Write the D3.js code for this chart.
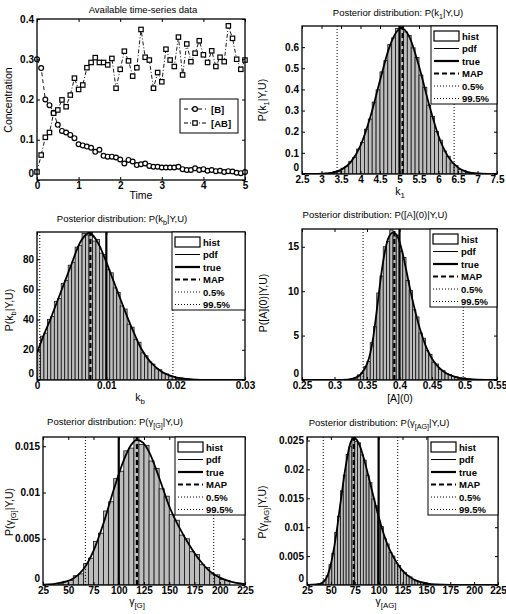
<!DOCTYPE html>
<html>
<head>
<meta charset="utf-8">
<script src="https://cdn.jsdelivr.net/npm/d3@7"></script>
<style>
body { margin: 0; background: #fff; }
svg { display: block; font-family: "Liberation Sans", Arial, sans-serif; }
.tick text { font-size: 10px; font-weight: bold; fill: #000; }
.tick line { stroke: #000; stroke-width: 1; }
.lbl { font-size: 10.5px; fill: #000; }
.ttl { font-size: 9.5px; fill: #000; }
.leg { font-size: 9.5px; font-weight: bold; fill: #000; }
</style>
</head>
<body>
<svg width="506" height="614"></svg>
<script>
// ---- time series data ----
const times = [0,0.1,0.2,0.3,0.4,0.5,0.6,0.7,0.8,0.9,1,1.1,1.2,1.3,1.4,1.5,1.6,1.7,1.8,1.9,
  2,2.1,2.2,2.3,2.4,2.5,2.6,2.7,2.8,2.9,3,3.1,3.2,3.3,3.4,3.5,3.6,3.7,3.8,3.9,
  4,4.1,4.2,4.3,4.4,4.5,4.6,4.7,4.8,4.9,5];
const concB = [0.300,0.278,0.200,0.186,0.167,0.137,0.122,0.118,0.112,0.104,
  0.089,0.086,0.083,0.080,0.070,0.075,0.060,0.058,0.058,0.056,
  0.051,0.041,0.050,0.046,0.037,0.039,0.041,0.035,0.033,0.033,
  0.031,0.031,0.031,0.031,0.033,0.027,0.025,0.025,0.029,0.025,
  0.027,0.023,0.025,0.022,0.023,0.020,0.022,0.021,0.018,0.017,0.020];
const concAB = [0.020,0.062,0.106,0.118,0.166,0.174,0.199,0.182,0.211,0.253,
  0.225,0.236,0.279,0.292,0.304,0.292,0.292,0.286,0.302,0.228,
  0.275,0.320,0.296,0.258,0.279,0.374,0.305,0.298,0.228,0.267,
  0.244,0.325,0.298,0.282,0.355,0.261,0.338,0.294,0.315,0.346,
  0.311,0.292,0.321,0.282,0.305,0.294,0.383,0.352,0.300,0.275,0.298];
const timeTicks = [0,1,2,3,4,5];
const concTicks = [0,0.1,0.2,0.3,0.4];

// ---- k1 posterior ----
const k1Ticks = [2.5,3,3.5,4,4.5,5,5.5,6,6.5,7,7.5];
const k1ProbTicks = [0,0.1,0.2,0.3,0.4,0.5,0.6];
const k1PdfX = [2.5,2.75,3,3.25,3.5,3.75,4,4.25,4.5,4.75,5,5.05,5.25,5.5,5.75,6,6.25,6.5,6.75,7,7.25,7.5];
const k1PdfY = [0,0.0003,0.0014,0.0056,0.0195,0.056,0.134,0.268,0.442,0.605,0.687,0.69,0.650,0.510,0.334,0.180,0.081,0.030,0.0094,0.0024,0.0005,0.0001];
const k1HistStart = 3, k1HistStep = 0.1;
const k1Hist = [0.002,0.004,0.004,0.011,0.014,0.027,0.035,0.060,0.078,0.118,0.150,0.212,0.260,0.340,0.398,0.483,0.536,0.612,0.644,0.688,
  0.694,0.672,0.655,0.597,0.551,0.468,0.410,0.326,0.272,0.201,0.160,0.109,0.084,0.052,0.040,0.022,0.016,0.008,0.006,0.003];
const k1Marks = {trueVal: 5.0, map: 5.08, lo: 3.4, hi: 6.4};

// ---- kb posterior ----
const kbTicks = [0,0.01,0.02,0.03];
const kbProbTicks = [0,20,40,60,80];
const kbPdfX = [0,0.001,0.002,0.003,0.004,0.005,0.006,0.007,0.0075,0.008,0.009,0.010,0.011,0.012,0.013,0.014,0.015,0.016,0.017,0.018,0.019,0.020,0.021,0.022,0.023,0.024,0.026,0.030];
const kbPdfY = [18,30,41,53,65,77,89,96,97.5,96,89,78,66,54,42,31,21,14,9,5.5,3.2,1.8,1.0,0.5,0.25,0.1,0.03,0];
const kbHistStart = 0, kbHistStep = 0.0005;
const kbHist = [19,29,31,40,42,52,54,64,66,76,78,88,89,97,96,99,92,93,84,83,73,71,61,58,49,47,37,35,27,25,18,16,12,10.5,7.4,6.8,4.5,4.0,2.6,2.4,1.4,1.3,0.8,0.7,0.4,0.35,0.15,0.15];
const kbMarks = {trueVal: 0.01, map: 0.0077, lo: 0.0004, hi: 0.0196};

// ---- [A](0) posterior ----
const a0Ticks = [0.25,0.3,0.35,0.4,0.45,0.5,0.55];
const a0ProbTicks = [0,5,10,15];
const a0PdfX = [0.25,0.30,0.32,0.33,0.34,0.35,0.355,0.36,0.365,0.37,0.375,0.38,0.385,0.39,0.395,0.40,0.405,0.41,0.415,0.42,0.425,0.43,0.44,0.45,0.46,0.47,0.48,0.49,0.50,0.52,0.55];
const a0PdfY = [0,0,0.05,0.2,0.6,1.8,3.0,5.0,7.8,10.8,13.4,15.3,16.3,16.6,16.4,15.6,14.2,12.5,10.7,9.0,7.5,6.1,3.9,2.4,1.45,0.85,0.5,0.28,0.15,0.04,0];
const a0HistStart = 0.32, a0HistStep = 0.005;
const a0Hist = [0.04,0.18,0.25,0.58,0.78,1.5,2.1,4.2,6.0,9.8,11.7,15.0,15.6,16.9,16.2,16.3,14.5,13.8,11.2,10.1,
  7.9,7.1,5.3,4.7,3.3,2.9,2.0,1.8,1.2,1.05,0.7,0.62,0.4,0.36,0.22,0.2,0.11,0.1,0.05,0.04];
const a0Marks = {trueVal: 0.4, map: 0.392, lo: 0.344, hi: 0.498};

// ---- gamma[G] posterior ----
const gTicks = [25,50,75,100,125,150,175,200,225];
const gProbTicks = [0,0.005,0.01,0.015];
const gPdfX = [25,35,45,55,65,75,85,95,105,112,118,124,130,140,150,160,170,180,190,200,210,225];
const gPdfY = [0.00003,0.0001,0.0003,0.0007,0.0017,0.0037,0.0067,0.0103,0.0135,0.0151,0.0157,0.0154,0.0144,0.0116,0.0085,0.0062,0.0043,0.0027,0.0015,0.0008,0.0004,0.0001];
const gHistStart = 40, gHistStep = 5;
const gHist = [0.0002,0.0004,0.0005,0.0010,0.0012,0.0023,0.0029,0.0047,0.0056,0.0080,0.0090,0.0115,0.0123,0.0145,0.0148,0.0160,0.0152,
  0.0151,0.0134,0.0126,0.0104,0.0096,0.0076,0.0070,0.0054,0.0050,0.0036,0.0033,0.0022,0.0019,0.0012,0.0011,0.0006,0.0005];
const gMarks = {trueVal: 100, map: 118, lo: 67, hi: 194};

// ---- gamma[AG] posterior ----
const agTicks = [25,50,75,100,125,150,175,200,225];
const agProbTicks = [0,0.005,0.01,0.015,0.02,0.025];
const agPdfX = [25,35,40,45,50,55,60,65,70,74,80,85,90,95,100,105,110,115,120,125,130,140,150,160,175,225];
const agPdfY = [0.00002,0.0001,0.0003,0.0011,0.0036,0.0081,0.0141,0.0200,0.0243,0.0255,0.0242,0.0216,0.0184,0.0150,0.0118,0.0090,0.0067,0.0050,0.0036,0.0025,0.0017,0.0007,0.0003,0.0001,0.00003,0];
const agHistStart = 36, agHistStep = 3;
const agHist = [0.0002,0.0003,0.0009,0.0016,0.0035,0.0055,0.0091,0.0119,0.0163,0.0190,0.0226,0.0240,0.0257,0.0248,0.0246,0.0225,0.0216,0.0190,0.0177,0.0149,
  0.0137,0.0111,0.0101,0.0080,0.0071,0.0056,0.0050,0.0038,0.0034,0.0025,0.0022,0.0016,0.0014,0.0009,0.0008,0.0005,0.0004,0.0003,0.0002,0.0001];
const agMarks = {trueVal: 100, map: 74, lo: 42, hi: 120};

const legendNames = ["hist","pdf","true","MAP","0.5%","99.5%"];

const svg = d3.select("svg");
const fmt = d3.format("~g");

// text with subscripts: parts = [[text, isSub], ...]
function rich(sel, parts, fs) {
	let prevSub = false;
	parts.forEach(([s, sub]) => {
		const t = sel.append("tspan").text(s);
		if (sub && !prevSub) t.attr("dy", fs * 0.3);
		if (!sub && prevSub) t.attr("dy", -fs * 0.3);
		if (sub) t.attr("font-size", fs * 0.75);
		prevSub = !!sub;
	});
	return sel;
}

function frame(g, x, y, xt, yt, b) {
	g.append("g").attr("transform", `translate(0,${b.bottom})`)
		.call(d3.axisBottom(x).tickValues(xt).tickSize(-3).tickPadding(1.5).tickFormat(fmt))
		.call(a => a.select(".domain").remove());
	g.append("g").attr("transform", `translate(0,${b.top})`)
		.call(d3.axisTop(x).tickValues(xt).tickSize(-3).tickFormat(""))
		.call(a => a.select(".domain").remove());
	g.append("g").attr("transform", `translate(${b.left},0)`)
		.call(d3.axisLeft(y).tickValues(yt).tickSize(-3).tickPadding(3).tickFormat(fmt))
		.call(a => a.select(".domain").remove())
		// lowest label sits just above the corner, as in the original
		.call(a => a.selectAll(".tick text").filter(d => d === yt[0]).attr("dy", "-0.35em"));
	g.append("g").attr("transform", `translate(${b.right},0)`)
		.call(d3.axisRight(y).tickValues(yt).tickSize(-3).tickFormat(""))
		.call(a => a.select(".domain").remove());
	g.append("rect")
		.attr("x", b.left).attr("y", b.top)
		.attr("width", b.right - b.left).attr("height", b.bottom - b.top)
		.attr("fill", "none").attr("stroke", "#000").attr("stroke-width", 1.3);
}

//* Panel 1: time series
(function () {
	const b = {left: 37, right: 245, top: 19, bottom: 180};
	const x = d3.scaleLinear().domain([0, 5]).range([b.left, b.right]);
	const y = d3.scaleLinear().domain([0, 0.4]).range([b.bottom, b.top]);
	const g = svg.append("g");
	const line = d3.line().x((d, i) => x(times[i])).y(d => y(d));

	g.append("path").datum(concB).attr("d", line)
		.attr("fill", "none").attr("stroke", "#000").attr("stroke-width", 0.9).attr("stroke-dasharray", "4,3");
	g.append("path").datum(concAB).attr("d", line)
		.attr("fill", "none").attr("stroke", "#000").attr("stroke-width", 0.9).attr("stroke-dasharray", "4,2,1,2");

	g.selectAll("circle.b").data(concB).enter().append("circle")
		.attr("cx", (d, i) => x(times[i])).attr("cy", d => y(d)).attr("r", 2.4)
		.attr("fill", "#fff").attr("stroke", "#000").attr("stroke-width", 1.2);
	g.selectAll("rect.ab").data(concAB).enter().append("rect")
		.attr("x", (d, i) => x(times[i]) - 2.2).attr("y", d => y(d) - 2.2)
		.attr("width", 4.4).attr("height", 4.4)
		.attr("fill", "#fff").attr("stroke", "#000").attr("stroke-width", 1.2);

	frame(g, x, y, timeTicks, concTicks, b);

	// legend
	const lg = g.append("g").attr("transform", "translate(180,99)");
	lg.append("rect").attr("width", 58).attr("height", 34).attr("fill", "#fff").attr("stroke", "#000").attr("stroke-width", 1);
	lg.append("line").attr("x1", 4).attr("x2", 26).attr("y1", 10).attr("y2", 10).attr("stroke", "#000").attr("stroke-dasharray", "4,3");
	lg.append("circle").attr("cx", 15).attr("cy", 10).attr("r", 2.4).attr("fill", "#fff").attr("stroke", "#000").attr("stroke-width", 1.2);
	lg.append("text").attr("class", "leg").attr("x", 31).attr("y", 13.5).text("[B]");
	lg.append("line").attr("x1", 4).attr("x2", 26).attr("y1", 24).attr("y2", 24).attr("stroke", "#000").attr("stroke-dasharray", "4,2,1,2");
	lg.append("rect").attr("x", 12.8).attr("y", 21.8).attr("width", 4.4).attr("height", 4.4).attr("fill", "#fff").attr("stroke", "#000").attr("stroke-width", 1.2);
	lg.append("text").attr("class", "leg").attr("x", 31).attr("y", 27.5).text("[AB]");

	g.append("text").attr("class", "ttl").attr("x", 143).attr("y", 13).attr("text-anchor", "middle").text("Available time-series data");
	g.append("text").attr("class", "lbl").attr("x", 141).attr("y", 199).attr("text-anchor", "middle").text("Time");
	g.append("text").attr("class", "lbl").attr("transform", "translate(12,100) rotate(-90)").attr("text-anchor", "middle").text("Concentration");
})();

//* Posterior panels
function posterior(p) {
	const b = p.box;
	const x = d3.scaleLinear().domain(p.xDomain).range([b.left, b.right]);
	const y = d3.scaleLinear().domain(p.yDomain).range([b.bottom, b.top]);
	const g = svg.append("g");
	const cid = "clip" + p.id;
	svg.append("clipPath").attr("id", cid).append("rect")
		.attr("x", b.left).attr("y", b.top).attr("width", b.right - b.left).attr("height", b.bottom - b.top);
	const inner = g.append("g").attr("clip-path", `url(#${cid})`);

	// histogram bars
	inner.selectAll("rect.bar").data(p.hist).enter().append("rect")
		.attr("x", (d, i) => x(p.histStart + i * p.histStep))
		.attr("width", (d, i) => x(p.histStart + (i + 1) * p.histStep) - x(p.histStart + i * p.histStep))
		.attr("y", d => y(d))
		.attr("height", d => y(0) - y(d))
		.attr("fill", "#bdbdbd").attr("stroke", "#111").attr("stroke-width", 0.8);

	// pdf
	inner.append("path").datum(p.pdfY)
		.attr("d", d3.line().curve(d3.curveMonotoneX).x((d, i) => x(p.pdfX[i])).y(d => y(d)))
		.attr("fill", "none").attr("stroke", "#000").attr("stroke-width", 1.8);

	// vertical markers
	const vl = (v, w, dash) => inner.append("line")
		.attr("x1", x(v)).attr("x2", x(v)).attr("y1", b.bottom).attr("y2", b.top)
		.attr("stroke", "#000").attr("stroke-width", w).attr("stroke-dasharray", dash);
	vl(p.marks.lo, 1, "1,2");
	vl(p.marks.hi, 1, "1,2");
	vl(p.marks.map, 2.2, "5,3");
	vl(p.marks.trueVal, 2.2, null);

	frame(g, x, y, p.xTicks, p.yTicks, b);

	// legend
	const lg = g.append("g").attr("transform", `translate(${p.legend[0]},${p.legend[1]})`);
	lg.append("rect").attr("width", p.legend[2]).attr("height", 78).attr("fill", "#fff").attr("stroke", "#000").attr("stroke-width", 1);
	legendNames.forEach((name, i) => {
		const cy = 10 + i * 12.5;
		if (i === 0) {
			lg.append("rect").attr("x", 3).attr("y", cy - 5).attr("width", 25).attr("height", 10)
				.attr("fill", "#fff").attr("stroke", "#000").attr("stroke-width", 1.2);
		} else {
			const st = [null, [1, null], [2.2, null], [2.2, "5,3"], [1, "1,2"], [1, "1,2"]][i];
			lg.append("line").attr("x1", 3).attr("x2", 28).attr("y1", cy).attr("y2", cy)
				.attr("stroke", "#000").attr("stroke-width", st[0]).attr("stroke-dasharray", st[1]);
		}
		lg.append("text").attr("class", "leg").attr("x", 31).attr("y", cy + 3.5).text(name);
	});

	rich(g.append("text").attr("class", "ttl").attr("x", p.titleX).attr("y", p.titleY).attr("text-anchor", "middle"), p.title, 9.5);
	rich(g.append("text").attr("class", "lbl").attr("x", p.xLabelPos[0]).attr("y", p.xLabelPos[1]).attr("text-anchor", "middle"), p.xLabel, 10.5);
	rich(g.append("text").attr("class", "lbl")
		.attr("transform", `translate(${p.yLabelPos[0]},${p.yLabelPos[1]}) rotate(-90)`).attr("text-anchor", "middle"), p.yLabel, 10);
}

posterior({
	id: 2, box: {left: 302, right: 497, top: 26, bottom: 174},
	xDomain: [2.5, 7.5], yDomain: [0, 0.70], xTicks: k1Ticks, yTicks: k1ProbTicks,
	pdfX: k1PdfX, pdfY: k1PdfY, hist: k1Hist, histStart: k1HistStart, histStep: k1HistStep, marks: k1Marks,
	legend: [431, 26, 66],
	title: [["Posterior distribution: P(k"], ["1", 1], ["|Y,U)"]], titleX: 398, titleY: 16,
	xLabel: [["k"], ["1", 1]], xLabelPos: [400, 195],
	yLabel: [["P(k"], ["1", 1], ["|Y,U)"]], yLabelPos: [266, 100]
});
posterior({
	id: 3, box: {left: 37, right: 245, top: 232, bottom: 380},
	xDomain: [0, 0.03], yDomain: [0, 98], xTicks: kbTicks, yTicks: kbProbTicks,
	pdfX: kbPdfX, pdfY: kbPdfY, hist: kbHist, histStart: kbHistStart, histStep: kbHistStep, marks: kbMarks,
	legend: [172, 232, 73],
	title: [["Posterior distribution: P(k"], ["b", 1], ["|Y,U)"]], titleX: 122, titleY: 222,
	xLabel: [["k"], ["b", 1]], xLabelPos: [140, 401],
	yLabel: [["P(k"], ["b", 1], ["|Y,U)"]], yLabelPos: [13, 310]
});
posterior({
	id: 4, box: {left: 302, right: 497, top: 229, bottom: 380},
	xDomain: [0.25, 0.55], yDomain: [0, 17], xTicks: a0Ticks, yTicks: a0ProbTicks,
	pdfX: a0PdfX, pdfY: a0PdfY, hist: a0Hist, histStart: a0HistStart, histStep: a0HistStep, marks: a0Marks,
	legend: [430, 229, 67],
	title: [["Posterior distribution: P([A](0)|Y,U)"]], titleX: 375, titleY: 218,
	xLabel: [["[A](0)"]], xLabelPos: [400, 402],
	yLabel: [["P([A](0)|Y,U)"]], yLabelPos: [267, 303]
});
posterior({
	id: 5, box: {left: 43, right: 245, top: 437, bottom: 585},
	xDomain: [25, 225], yDomain: [0, 0.016], xTicks: gTicks, yTicks: gProbTicks,
	pdfX: gPdfX, pdfY: gPdfY, hist: gHist, histStart: gHistStart, histStep: gHistStep, marks: gMarks,
	legend: [175, 437, 70],
	title: [["Posterior distribution: P(γ"], ["[G]", 1], ["|Y,U)"]], titleX: 115, titleY: 425,
	xLabel: [["γ"], ["[G]", 1]], xLabelPos: [137, 605],
	yLabel: [["P(γ"], ["[G]", 1], ["|Y,U)"]], yLabelPos: [13, 512]
});
posterior({
	id: 6, box: {left: 307, right: 498, top: 437, bottom: 585},
	xDomain: [25, 225], yDomain: [0, 0.0256], xTicks: agTicks, yTicks: agProbTicks,
	pdfX: agPdfX, pdfY: agPdfY, hist: agHist, histStart: agHistStart, histStep: agHistStep, marks: agMarks,
	legend: [428, 437, 70],
	title: [["Posterior distribution: P(γ"], ["[AG]", 1], ["|Y,U)"]], titleX: 379, titleY: 426,
	xLabel: [["γ"], ["[AG]", 1]], xLabelPos: [386, 605],
	yLabel: [["P(γ"], ["[AG]", 1], ["|Y,U)"]], yLabelPos: [266, 512]
});
</script>
</body>
</html>
